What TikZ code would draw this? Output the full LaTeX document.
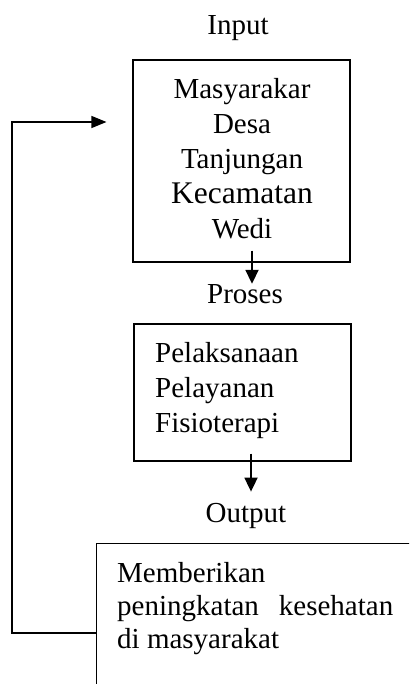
\documentclass[tikz,border=0pt]{standalone}
\usepackage{fontspec}
\setmainfont{Liberation Serif}
\usetikzlibrary{arrows.meta}
\begin{document}
\begin{tikzpicture}[x=1pt,y=-1pt,
  box/.style={draw, line width=1.1pt, inner sep=0pt},
  txt/.style={inner sep=0pt, font=\fontsize{29}{35}\selectfont},
  arr/.style={line width=1.8pt, -{Triangle[length=14pt,width=13pt]}},
  fb/.style={line width=1.3pt, -{Triangle[length=15pt,width=12pt]}}]
\useasboundingbox (0,0) rectangle (409,684);
\clip (0,0) rectangle (409,684);
\node[txt, anchor=base] (input) at (238,35) {Input};
\node[box, minimum width=217pt, minimum height=202pt] (masy) at (241.5,161) {};
\node[txt, align=center, anchor=north] (masyt) at (242,78) {Masyarakar\\Desa\\Tanjungan\\{\fontsize{31.5}{35}\selectfont Kecamatan}\\Wedi};
\node[txt, anchor=base] (proses) at (245,303) {Proses};
\node[box, minimum width=217pt, minimum height=137pt] (pel) at (242.5,392.5) {};
\node[txt, align=left, anchor=north west] (pelt) at (155,342) {Pelaksanaan\\Pelayanan\\Fisioterapi};
\node[txt, anchor=base] (output) at (246,522) {Output};
\node[box, anchor=north west, minimum width=400pt, minimum height=300pt] (hasil) at (96,543) {};
\node[txt, font=\fontsize{29}{33}\selectfont, align=left, anchor=north west] (hasilt) at (117,562) {Memberikan\\peningkatan\hspace{20pt}kesehatan\\di masyarakat};
\draw[arr] ([xshift=10.5pt,yshift=12pt]masy.south) -- ([xshift=10.5pt]masy.south |- proses.north);
\draw[arr] ([xshift=8.5pt,yshift=8pt]pel.south) -- ([xshift=8.5pt,yshift=11pt]pel.south |- output.north);
\draw[fb] ([yshift=-90pt]hasil.north west) -- ++(-84,0) |- ([xshift=-26pt,yshift=39pt]masy.west);
\end{tikzpicture}
\end{document}
